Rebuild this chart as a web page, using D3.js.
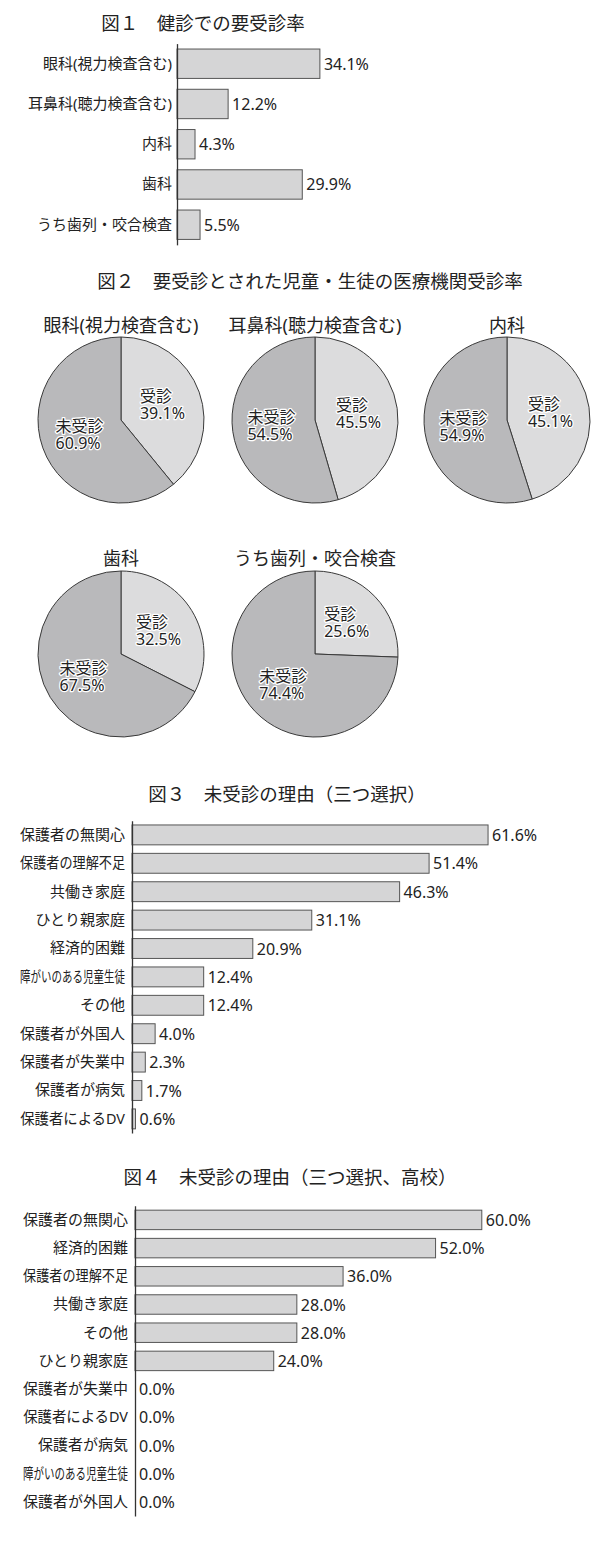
<!DOCTYPE html>
<html>
<head>
<meta charset="utf-8">
<script src="https://cdn.jsdelivr.net/npm/d3@7"></script>
<style>
  body { margin: 0; background: #fff; }
  text { font-family: 'Noto Sans', 'Noto Sans CJK JP', sans-serif; fill: #222; }
</style>
</head>
<body>
<div id="chart"></div>
<script>
// Figure titles
var titles = [
    "図１　健診での要受診率",
    "図２　要受診とされた児童・生徒の医療機関受診率",
    "図３　未受診の理由（三つ選択）",
    "図４　未受診の理由（三つ選択、高校）"
];

// Fig 1
var fig1Categories = ["眼科(視力検査含む)", "耳鼻科(聴力検査含む)", "内科", "歯科", "うち歯列・咬合検査"];
var fig1Values = [34.1, 12.2, 4.3, 29.9, 5.5];

// Fig 2
var pieTitles = ["眼科(視力検査含む)", "耳鼻科(聴力検査含む)", "内科", "歯科", "うち歯列・咬合検査"];
var pieSliceNames = ["受診", "未受診"];
var pieReceived = [39.1, 45.5, 45.1, 32.5, 25.6];
var pieNotReceived = [60.9, 54.5, 54.9, 67.5, 74.4];

// Fig 3
var fig3Categories = ["保護者の無関心", "保護者の理解不足", "共働き家庭", "ひとり親家庭", "経済的困難",
    "障がいのある児童生徒", "その他", "保護者が外国人", "保護者が失業中", "保護者が病気", "保護者によるDV"];
var fig3Values = [61.6, 51.4, 46.3, 31.1, 20.9, 12.4, 12.4, 4.0, 2.3, 1.7, 0.6];

// Fig 4
var fig4Categories = ["保護者の無関心", "経済的困難", "保護者の理解不足", "共働き家庭", "その他", "ひとり親家庭",
    "保護者が失業中", "保護者によるDV", "保護者が病気", "障がいのある児童生徒", "保護者が外国人"];
var fig4Values = [60.0, 52.0, 36.0, 28.0, 28.0, 24.0, 0.0, 0.0, 0.0, 0.0, 0.0];

var svg = d3.select("#chart")
    .append("svg")
    .attr("width", 600)
    .attr("height", 1548);

function drawTitle(text, cx, cy) {
    svg.append("text")
        .attr("x", cx)
        .attr("y", cy)
        .attr("text-anchor", "middle")
        .attr("dominant-baseline", "central")
        .style("font-size", "18.5px")
        .text(text);
}

// horizontal bar chart with the category axis on the left
function drawBars(o) {
    var g = svg.append("g");
    var n = o.categories.length;

    var y = d3.scaleBand()
        .domain(o.categories)
        .range([o.top, o.top + o.step * n])
        .paddingInner(o.pad)
        .paddingOuter(o.pad / 2);
    var x = d3.scaleLinear()
        .domain([0, o.max])
        .range([o.axisX, o.axisX + o.max * o.pxPer]);

    var rows = o.categories.map(function (c, i) { return { cat: c, val: o.values[i] }; });

    g.selectAll("rect")
        .data(rows.filter(function (d) { return d.val > 0; }))
        .join("rect")
        .attr("x", x(0))
        .attr("y", function (d) { return y(d.cat); })
        .attr("width", function (d) { return x(d.val) - x(0); })
        .attr("height", y.bandwidth())
        .attr("fill", "#d5d5d6")
        .attr("stroke", "#555")
        .attr("stroke-width", 1);

    g.selectAll("text.val")
        .data(rows)
        .join("text")
        .attr("class", "val")
        .attr("x", function (d) { return x(d.val) + 4; })
        .attr("y", function (d) { return y(d.cat) + y.bandwidth() / 2; })
        .attr("dominant-baseline", "central")
        .style("font-size", "16px")
        .text(function (d) { return d.val.toFixed(1) + "%"; });

    var axis = g.append("g")
        .attr("transform", "translate(" + o.axisX + ",0)")
        .call(d3.axisLeft(y).tickSize(0).tickPadding(o.labelGap));
    axis.select(".domain").attr("stroke", "#333").attr("stroke-width", 1.3);
    axis.selectAll(".tick text")
        .attr("fill", "#222")
        .style("font-size", "15px")
        .style("font-family", "'Noto Sans', 'Noto Sans CJK JP', sans-serif");

    // long labels are squeezed horizontally into the common label width
    if (o.maxLabel) {
        axis.selectAll(".tick text").each(function () {
            var w = this.getComputedTextLength();
            if (w > o.maxLabel) {
                var k = o.maxLabel / w;
                d3.select(this)
                    .attr("x", -o.labelGap / k)
                    .attr("transform", "scale(" + k + ",1)");
            }
        });
    }
}

// Fig 1
drawTitle(titles[0], 203, 22);
drawBars({
    categories: fig1Categories, values: fig1Values,
    top: 43.6, step: 40.25, pad: 0.27,
    axisX: 177, max: 40, pxPer: 4.19, labelGap: 5
});

// Fig 2 pies
drawTitle(titles[1], 310, 280);

var R = 83;
var pieCenters = [[121, 420], [315, 420], [507, 420], [121, 654], [315, 654]];
var pieTitleY = [325, 325, 325, 558, 558];
var sliceColors = ["#dcdcdd", "#b9b9bb"];

var pie = d3.pie().sort(null).value(function (d) { return d.v; });
var arc = d3.arc().innerRadius(0).outerRadius(R);
var labelArc = d3.arc().innerRadius(R * 0.53).outerRadius(R * 0.53);

pieTitles.forEach(function (t, i) {
    var cx = pieCenters[i][0], cy = pieCenters[i][1];

    svg.append("text")
        .attr("x", cx)
        .attr("y", pieTitleY[i])
        .attr("text-anchor", "middle")
        .attr("dominant-baseline", "central")
        .style("font-size", "18px")
        .text(t);

    var g = svg.append("g").attr("transform", "translate(" + cx + "," + cy + ")");
    var slices = pie([
        { name: pieSliceNames[0], v: pieReceived[i] },
        { name: pieSliceNames[1], v: pieNotReceived[i] }
    ]);

    g.selectAll("path")
        .data(slices)
        .join("path")
        .attr("d", arc)
        .attr("fill", function (d, j) { return sliceColors[j]; })
        .attr("stroke", "#3a3a3a")
        .attr("stroke-width", 1);

    // two-line label (name / percent), left aligned, block centred on the slice
    slices.forEach(function (d) {
        var c = labelArc.centroid(d);
        var lbl = g.append("text")
            .style("font-size", "16px")
            .style("stroke", "#fff")
            .style("stroke-width", "2.5px")
            .style("paint-order", "stroke")
            .style("stroke-linejoin", "round");
        lbl.append("tspan").attr("x", 0).attr("y", -3).text(d.data.name);
        lbl.append("tspan").attr("x", 0).attr("dy", 17).text(d.data.v.toFixed(1) + "%");
        var w = d3.max(lbl.selectAll("tspan").nodes(), function (n) { return n.getComputedTextLength(); });
        lbl.attr("transform", "translate(" + (c[0] - w / 2) + "," + c[1] + ")");
    });
});

// Fig 3
drawTitle(titles[2], 287, 793);
drawBars({
    categories: fig3Categories, values: fig3Values,
    top: 820.7, step: 28.4, pad: 0.3,
    axisX: 132, max: 70, pxPer: 5.78, labelGap: 7, maxLabel: 105
});

// Fig 4
drawTitle(titles[3], 290, 1176);
drawBars({
    categories: fig4Categories, values: fig4Values,
    top: 1205.8, step: 28.2, pad: 0.31,
    axisX: 135, max: 70, pxPer: 5.78, labelGap: 7, maxLabel: 105
});
</script>
</body>
</html>
